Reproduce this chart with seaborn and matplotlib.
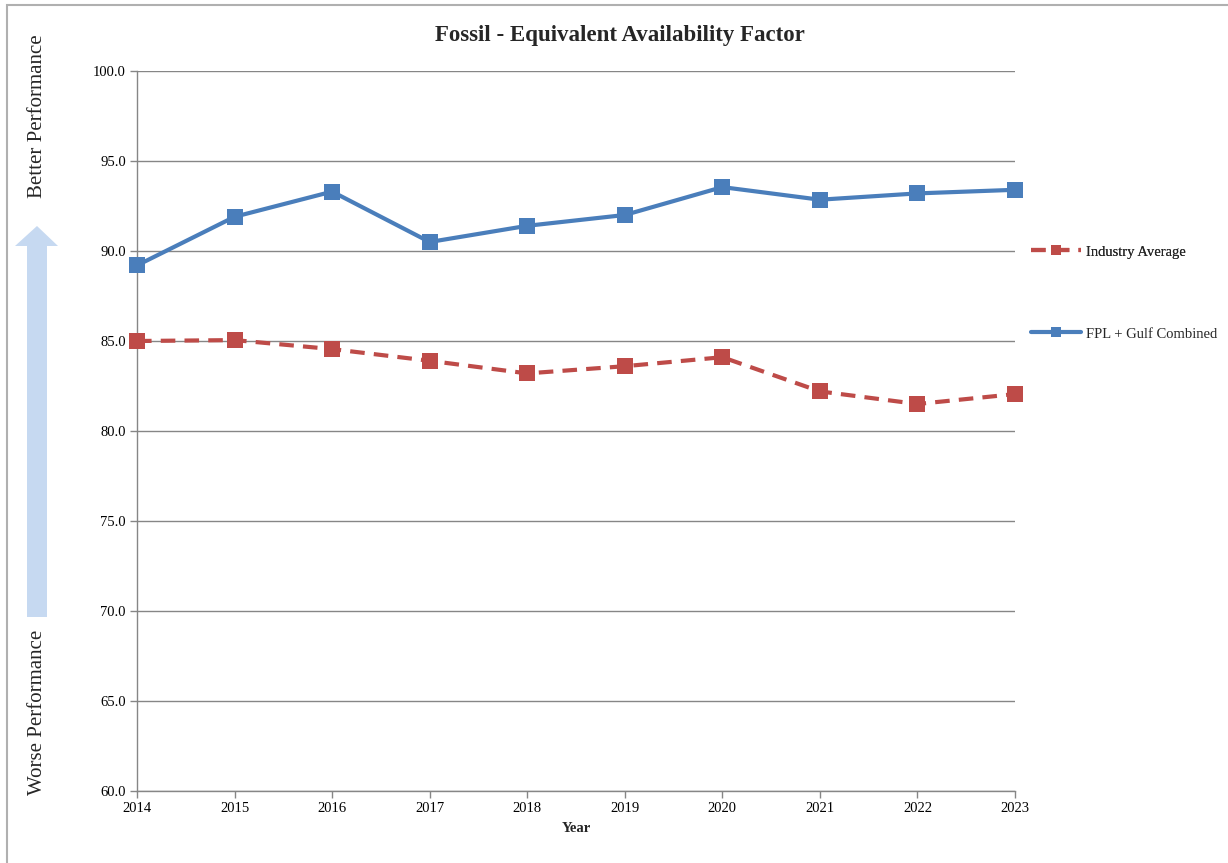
import matplotlib
matplotlib.use("Agg")
import matplotlib.pyplot as plt
import matplotlib.patches as mpatches
from matplotlib.lines import Line2D
import seaborn as sns
import pandas as pd

years = [2014, 2015, 2016, 2017, 2018, 2019, 2020, 2021, 2022, 2023]
industry_avg = [85.0, 85.05, 84.55, 83.9, 83.2, 83.6, 84.1, 82.2, 81.5, 82.05]
fpl_gulf = [89.2, 91.9, 93.3, 90.5, 91.4, 92.0, 93.55, 92.85, 93.2, 93.4]
y_ticks = [60, 65, 70, 75, 80, 85, 90, 95, 100]

sns.set_theme(style="white")
plt.rcParams['font.family'] = ['Liberation Serif', 'DejaVu Serif']

W, H = 1228, 863
fig = plt.figure(figsize=(W / 100, H / 100), dpi=100)
ax = fig.add_axes([137 / W, 1 - 791 / H, (1015 - 137) / W, (791 - 71) / H])

blue = "#4a7ebb"
red = "#be4b48"
grid_c = "#868686"
dash = (0, (3.5, 2.2))

df_ind = pd.DataFrame({"Year": years, "Value": industry_avg})
df_fpl = pd.DataFrame({"Year": years, "Value": fpl_gulf})

sns.lineplot(data=df_ind, x="Year", y="Value", ax=ax, color=red, linewidth=3,
             marker="s", markersize=11, markeredgewidth=0, linestyle=dash,
             clip_on=False, zorder=3)
sns.lineplot(data=df_fpl, x="Year", y="Value", ax=ax, color=blue, linewidth=3,
             marker="s", markersize=11, markeredgewidth=0, clip_on=False,
             zorder=3)

ax.set_xlim(2014, 2023)
ax.set_ylim(60, 100)
ax.set_xticks(years)
ax.set_xticklabels([str(y) for y in years], fontsize=10.5)
ax.set_yticks(y_ticks)
ax.set_yticklabels([f"{v:.1f}" for v in y_ticks], fontsize=10.5)
ax.grid(axis="y", color=grid_c, linewidth=1)
ax.grid(axis="x", visible=False)
for s in ["top", "right"]:
    ax.spines[s].set_visible(False)
for s in ["left", "bottom"]:
    ax.spines[s].set_color(grid_c)
    ax.spines[s].set_linewidth(1)
ax.tick_params(axis="both", direction="out", length=5, width=1, color=grid_c,
               pad=3, left=True, bottom=True, labelcolor="black")
ax.set_ylabel("")
ax.set_xlabel("Year", fontsize=10.5, fontweight="bold", labelpad=5)

def fx(px):
    return px / W

def fy(py):
    return 1 - py / H

fig.text(fx(620), fy(36), "Fossil - Equivalent Availability Factor",
         fontsize=16.5, fontweight="bold", ha="center", va="center")

h_ind = Line2D([0], [0], color=red, linewidth=3, linestyle=dash,
               marker="s", markersize=7, markeredgewidth=0)
h_fpl = Line2D([0], [0], color=blue, linewidth=3, marker="s", markersize=7,
               markeredgewidth=0)
leg_kw = dict(loc="center left", frameon=False, fontsize=10.5,
              handlelength=3.45, handletextpad=0.3, borderaxespad=0,
              borderpad=0)
leg1 = fig.legend([h_ind], ["Industry Average"],
                  bbox_to_anchor=(1031 / W, 1 - 252 / H), **leg_kw)
fig.add_artist(leg1)
fig.legend([h_fpl], ["FPL + Gulf Combined"],
           bbox_to_anchor=(1031 / W, 1 - 334 / H), **leg_kw)

arrow_pts = [(27, 617), (47, 617), (47, 246), (58, 246), (37, 226), (15, 246), (27, 246)]
poly = mpatches.Polygon([(fx(x), fy(y)) for x, y in arrow_pts], closed=True,
                        transform=fig.transFigure, facecolor="#c6d9f1",
                        edgecolor="none")
fig.add_artist(poly)

fig.text(fx(38), fy(116), "Better Performance", rotation=90, ha="center",
         va="center", fontsize=15)
fig.text(fx(38), fy(712), "Worse Performance", rotation=90, ha="center",
         va="center", fontsize=15)

border = mpatches.Rectangle((fx(7), fy(900)), fx(1300), fy(5) - fy(900),
                            transform=fig.transFigure, fill=False,
                            edgecolor="#b0b0b0", linewidth=1.5)
fig.add_artist(border)

fig.savefig("out.png", dpi=100, facecolor="white")
